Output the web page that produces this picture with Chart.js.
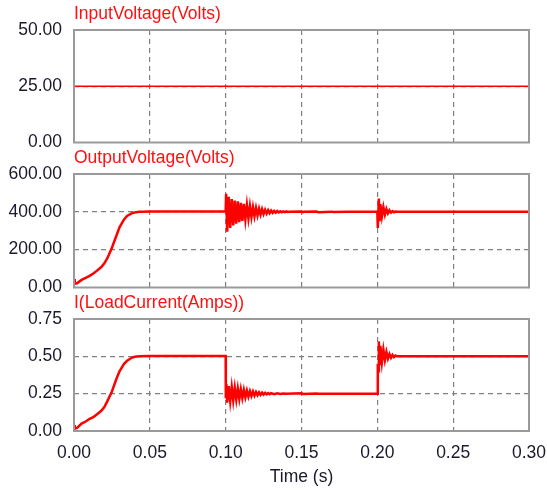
<!DOCTYPE html>
<html>
<head>
<meta charset="utf-8">
<script src="https://cdn.jsdelivr.net/npm/chart.js@4.4.1/dist/chart.umd.min.js"></script>
<style>
  html, body { margin: 0; padding: 0; background: #fff; }
  #wrap { position: relative; width: 547px; height: 492px; overflow: hidden; }
  .pane { position: absolute; left: 0; width: 547px; }
</style>
</head>
<body>
<div id="wrap">
  <div class="pane" style="top:0;height:165px"><canvas id="c1"></canvas></div>
  <div class="pane" style="top:140px;height:170px"><canvas id="c2"></canvas></div>
  <div class="pane" style="top:285px;height:207px"><canvas id="c3"></canvas></div>
</div>
<script>
// --- data ---
const xTicks = [0, 0.05, 0.10, 0.15, 0.20, 0.25, 0.30];

const inTime  = [0, 0.30];
const inVolts = [25, 25];

const outTime = [
  0, 0.0005, 0.002, 0.005, 0.008, 0.010, 0.013, 0.015, 0.018, 0.020, 0.022, 0.025,
  0.028, 0.030, 0.033, 0.035, 0.038, 0.040, 0.043, 0.045, 0.050, 0.100,
  0.1003, 0.101, 0.102, 0.103, 0.104, 0.105, 0.106, 0.107, 0.108, 0.109, 0.110,
  0.111, 0.112, 0.113, 0.114, 0.115, 0.116, 0.117, 0.118, 0.119, 0.120,
  0.121, 0.122, 0.123, 0.124, 0.125, 0.126, 0.127, 0.128, 0.129, 0.130,
  0.131, 0.132, 0.133, 0.134, 0.135, 0.136, 0.137, 0.138, 0.139, 0.140,
  0.141, 0.142, 0.150, 0.151, 0.152, 0.160, 0.161, 0.170, 0.171, 0.180, 0.200,
  0.2003, 0.201, 0.2015, 0.202, 0.203, 0.204, 0.205, 0.206, 0.207, 0.208,
  0.209, 0.210, 0.211, 0.212, 0.213, 0.300
];
const outVolts = [
  45, 20, 22, 40, 52, 60, 75, 88, 108, 128, 155, 210,
  275, 318, 360, 378, 392, 397, 400, 401, 402, 402,
  495, 295, 480, 315, 468, 328, 460, 338, 455, 345, 448,
  352, 442, 360, 436, 366, 430, 372, 425, 377, 421,
  381, 417, 385, 414, 388, 411, 391, 409, 393, 407,
  395, 405, 396, 404, 397, 403, 398, 402, 398, 402,
  399, 401, 402, 398, 401, 402, 398, 401, 399, 400, 400,
  315, 470, 350, 440, 375, 425, 385, 415, 392, 408,
  396, 404, 398, 402, 400, 400
];

const curTime = [
  0, 0.0005, 0.002, 0.005, 0.008, 0.010, 0.013, 0.015, 0.018, 0.020, 0.022, 0.025,
  0.028, 0.030, 0.033, 0.035, 0.038, 0.040, 0.043, 0.050, 0.100,
  0.1001, 0.1005, 0.101, 0.102, 0.103, 0.104, 0.105, 0.106, 0.107, 0.108, 0.109,
  0.110, 0.111, 0.112, 0.113, 0.114, 0.115, 0.116, 0.117, 0.118, 0.119, 0.120,
  0.121, 0.122, 0.123, 0.124, 0.125, 0.126, 0.127, 0.128, 0.129, 0.130,
  0.132, 0.134, 0.136, 0.138, 0.140, 0.150, 0.151, 0.160, 0.161, 0.200,
  0.2003, 0.2006, 0.201, 0.2015, 0.202, 0.203, 0.204, 0.205, 0.206, 0.207,
  0.208, 0.209, 0.210, 0.211, 0.212, 0.213, 0.300
];
const curAmps = [
  0.04, 0.015, 0.02, 0.05, 0.065, 0.08, 0.095, 0.11, 0.135, 0.16, 0.20, 0.265,
  0.35, 0.40, 0.45, 0.47, 0.49, 0.497, 0.50, 0.503, 0.503,
  0.22, 0.315, 0.19, 0.30, 0.20, 0.295, 0.205, 0.29, 0.21, 0.285, 0.215,
  0.28, 0.22, 0.275, 0.225, 0.27, 0.23, 0.267, 0.234, 0.264, 0.237, 0.261,
  0.24, 0.259, 0.242, 0.257, 0.244, 0.255, 0.245, 0.254, 0.246, 0.253,
  0.247, 0.252, 0.248, 0.251, 0.25, 0.252, 0.248, 0.251, 0.249, 0.25,
  0.45, 0.40, 0.60, 0.44, 0.57, 0.46, 0.545, 0.475, 0.53, 0.485,
  0.515, 0.49, 0.51, 0.495, 0.505, 0.50, 0.50
];

const TICK_FONT = { family: "'Liberation Sans', Arial, sans-serif", size: 17.5 };

// titre rouge au-dessus de la zone de tracé + cadre gris
const panelDeco = {
  id: "panelDeco",
  afterDraw(chart) {
    const a = chart.chartArea, c = chart.ctx;
    c.save();
    c.strokeStyle = "#9a9a9a";
    c.lineWidth = 2;
    c.strokeRect(a.left, a.top, a.right - a.left, a.bottom - a.top);
    c.fillStyle = "#ff1010";
    c.font = "17.5px 'Liberation Sans', Arial, sans-serif";
    c.textBaseline = "middle";
    c.textAlign = "left";
    c.fillText(chart.options.plugins.panelDeco.text, a.left, a.top - 16);
    c.restore();
  }
};

function makePanel(id, title, times, vals, yMax, yStep, padTop, xHeight, showX, lw) {
  const gridColor = ctx => (ctx.index === 0 || ctx.index === ctx.scale.ticks.length - 1) ? "rgba(0,0,0,0)" : "#808080";
  return new Chart(document.getElementById(id), {
    type: "line",
    data: {
      datasets: [{
        data: times.map((t, i) => ({ x: t, y: vals[i] })),
        borderColor: "#ff0000",
        borderWidth: lw,
        pointRadius: 0,
        tension: 0,
        fill: false
      }]
    },
    options: {
      responsive: true, maintainAspectRatio: false, animation: false,
      layout: { padding: { top: padTop, right: 18, left: 0, bottom: 0 } },
      plugins: { legend: { display: false }, tooltip: { enabled: false }, panelDeco: { text: title } },
      scales: {
        x: {
          type: "linear", min: 0, max: 0.30,
          afterBuildTicks: s => { s.ticks = xTicks.map(v => ({ value: v })); },
          afterFit: s => { s.height = xHeight; s.paddingLeft = 0; s.paddingRight = 0; },
          grid: { color: gridColor, lineWidth: 1.2, drawTicks: false },
          border: { display: false, dash: [5, 4] },
          ticks: { display: showX, padding: 12, color: "#1a1a2a", font: TICK_FONT,
                   maxRotation: 0, callback: v => v.toFixed(2) },
          title: { display: showX, text: "Time (s)", color: "#1a1a2a", font: TICK_FONT, padding: { top: 0, bottom: 4 } }
        },
        y: {
          min: 0, max: yMax,
          afterFit: s => { s.width = 74; },
          grid: { color: gridColor, lineWidth: 1.2, drawTicks: false },
          border: { display: false, dash: [5, 4] },
          ticks: { stepSize: yStep, padding: 12, color: "#1a1a2a", font: TICK_FONT,
                   callback: v => v.toFixed(2) }
        }
      }
    },
    plugins: [panelDeco]
  });
}

makePanel("c1", "InputVoltage(Volts)", inTime, inVolts, 50, 25, 30, 8, false, 1.5);
makePanel("c2", "OutputVoltage(Volts)", outTime, outVolts, 600, 200, 34, 8, false, 2.5);
makePanel("c3", "I(LoadCurrent(Amps))", curTime, curAmps, 0.75, 0.25, 34, 61, true, 2.5);
</script>
</body>
</html>
